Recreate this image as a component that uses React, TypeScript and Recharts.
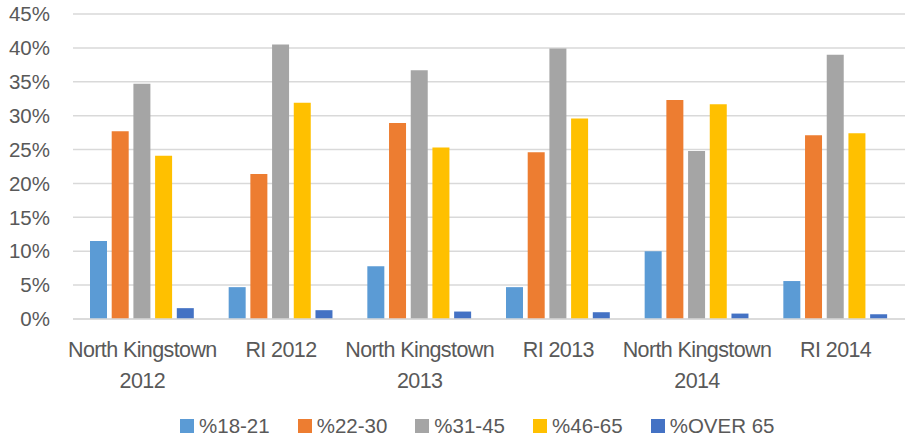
import React from "react";
import { BarChart, Bar, XAxis, YAxis, CartesianGrid, Legend } from "recharts";

const categories = [
  "North Kingstown 2012",
  "RI 2012",
  "North Kingstown 2013",
  "RI 2013",
  "North Kingstown 2014",
  "RI 2014",
];
const age18to21 = [11.5, 4.7, 7.8, 4.7, 10.0, 5.6];
const age22to30 = [27.7, 21.4, 28.9, 24.6, 32.3, 27.1];
const age31to45 = [34.7, 40.5, 36.7, 39.9, 24.8, 39.0];
const age46to65 = [24.1, 31.9, 25.3, 29.6, 31.7, 27.4];
const ageOver65 = [1.6, 1.3, 1.1, 1.0, 0.8, 0.7];
const yTicks = [0, 5, 10, 15, 20, 25, 30, 35, 40, 45];

const seriesList = [
  { key: "a", name: "%18-21", values: age18to21, color: "#5B9BD5" },
  { key: "b", name: "%22-30", values: age22to30, color: "#ED7D31" },
  { key: "c", name: "%31-45", values: age31to45, color: "#A5A5A5" },
  { key: "d", name: "%46-65", values: age46to65, color: "#FFC000" },
  { key: "e", name: "%OVER 65", values: ageOver65, color: "#4472C4" },
];

const rows = categories.map((cat, i) => {
  const row: Record<string, string | number> = { cat };
  seriesList.forEach((s) => (row[s.key] = s.values[i]));
  return row;
});

const TEXT = "#595959";
const FONT = "'Liberation Sans', Arial, sans-serif";

// Excel wraps the long category names onto two lines
function CategoryTick({ x, y, payload }: any) {
  const label: string = payload.value;
  const cut = label.lastIndexOf(" ");
  const lines = label.length > 10 ? [label.slice(0, cut), label.slice(cut + 1)] : [label];
  return (
    <text x={x} y={y} textAnchor="middle" fill={TEXT} fontSize={21.5} fontFamily={FONT} letterSpacing={-0.6}>
      {lines.map((ln, i) => (
        <tspan key={i} x={x} dy={i === 0 ? 38 : 31}>
          {ln}
        </tspan>
      ))}
    </text>
  );
}

function LegendBox() {
  return (
    <div style={{ height: 26, display: "flex", alignItems: "center", paddingLeft: 180, fontFamily: FONT, fontSize: 20.5, color: TEXT }}>
      {seriesList.map((s) => (
        <div key={s.key} style={{ display: "flex", alignItems: "center", marginRight: 28 }}>
          <span style={{ width: 14, height: 14, background: s.color, marginRight: 5, display: "inline-block" }} />
          <span>{s.name}</span>
        </div>
      ))}
    </div>
  );
}

export default function App() {
  return (
    <div style={{ position: "absolute", left: 0, top: 0, width: 909, height: 439, background: "#fff" }}>
      <BarChart
        width={909}
        height={439}
        data={rows}
        margin={{ top: 14, right: 4, bottom: 0, left: 0 }}
        barSize={17}
        barGap={4.7}
      >
        <CartesianGrid vertical={false} stroke="#D9D9D9" strokeWidth={1.5} />
        <XAxis
          dataKey="cat"
          height={94}
          interval={0}
          tickLine={false}
          tickSize={0}
          tickMargin={0}
          axisLine={{ stroke: "#D9D9D9", strokeWidth: 1.5 }}
          tick={<CategoryTick />}
        />
        <YAxis
          width={73}
          domain={[0, 45]}
          ticks={yTicks}
          interval={0}
          axisLine={false}
          tickLine={false}
          tickSize={0}
          tickMargin={23}
          tickFormatter={(v: number) => `${v}%`}
          tick={{ fill: TEXT, fontSize: 20.5, fontFamily: FONT }}
        />
        <Legend verticalAlign="bottom" content={() => <LegendBox />} />
        {seriesList.map((s) => (
          <Bar key={s.key} dataKey={s.key} name={s.name} fill={s.color} isAnimationActive={false} />
        ))}
      </BarChart>
    </div>
  );
}
